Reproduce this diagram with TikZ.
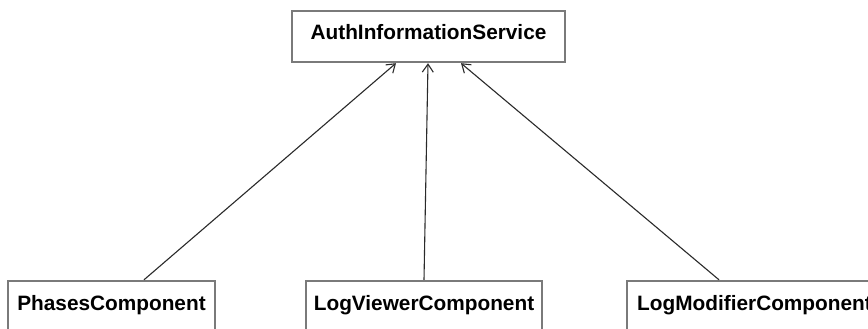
\documentclass[tikz,border=0pt]{standalone}
\usepackage{fontspec}
\setmainfont{Liberation Sans}
\usetikzlibrary{arrows.meta}
\definecolor{boxgray}{HTML}{7A7A7A}
\definecolor{linegray}{HTML}{2A2A2A}
\tikzset{
  umlbox/.style={draw=boxgray, line width=2.4pt, fill=white, rectangle,
    minimum height=51pt, inner sep=0pt,
    font=\bfseries\fontsize{20.8}{24}\selectfont,
    text height=15pt, text depth=8pt},
  dep/.style={draw=linegray, line width=1.1pt,
    -{Straight Barb[length=8pt,width=11pt,line width=1.1pt]}}
}
\begin{document}
\begin{tikzpicture}[x=1pt,y=1pt]
\useasboundingbox (0,0) rectangle (868,-329);
\clip (0,0) rectangle (868,-329);
\fill[white] (0,0) rectangle (868,-329);
\node[umlbox, minimum width=273pt] (auth) at (428.5,-36.5) {AuthInformationService};
\node[umlbox, minimum width=207pt] (phases) at (111.5,-306.5) {PhasesComponent};
\node[umlbox, minimum width=236pt] (viewer) at (424,-306.5) {LogViewerComponent};
\node[umlbox, minimum width=255pt] (modifier) at (754.5,-306.5) {LogModifierComponent};
\draw[dep] ([xshift=32.5pt]phases.north) -- ([xshift=-32.5pt]auth.south);
\draw[dep] (viewer.north) -- ([xshift=-0.5pt]auth.south);
\draw[dep] ([xshift=-35.5pt]modifier.north) -- ([xshift=32.5pt]auth.south);
\end{tikzpicture}
\end{document}
